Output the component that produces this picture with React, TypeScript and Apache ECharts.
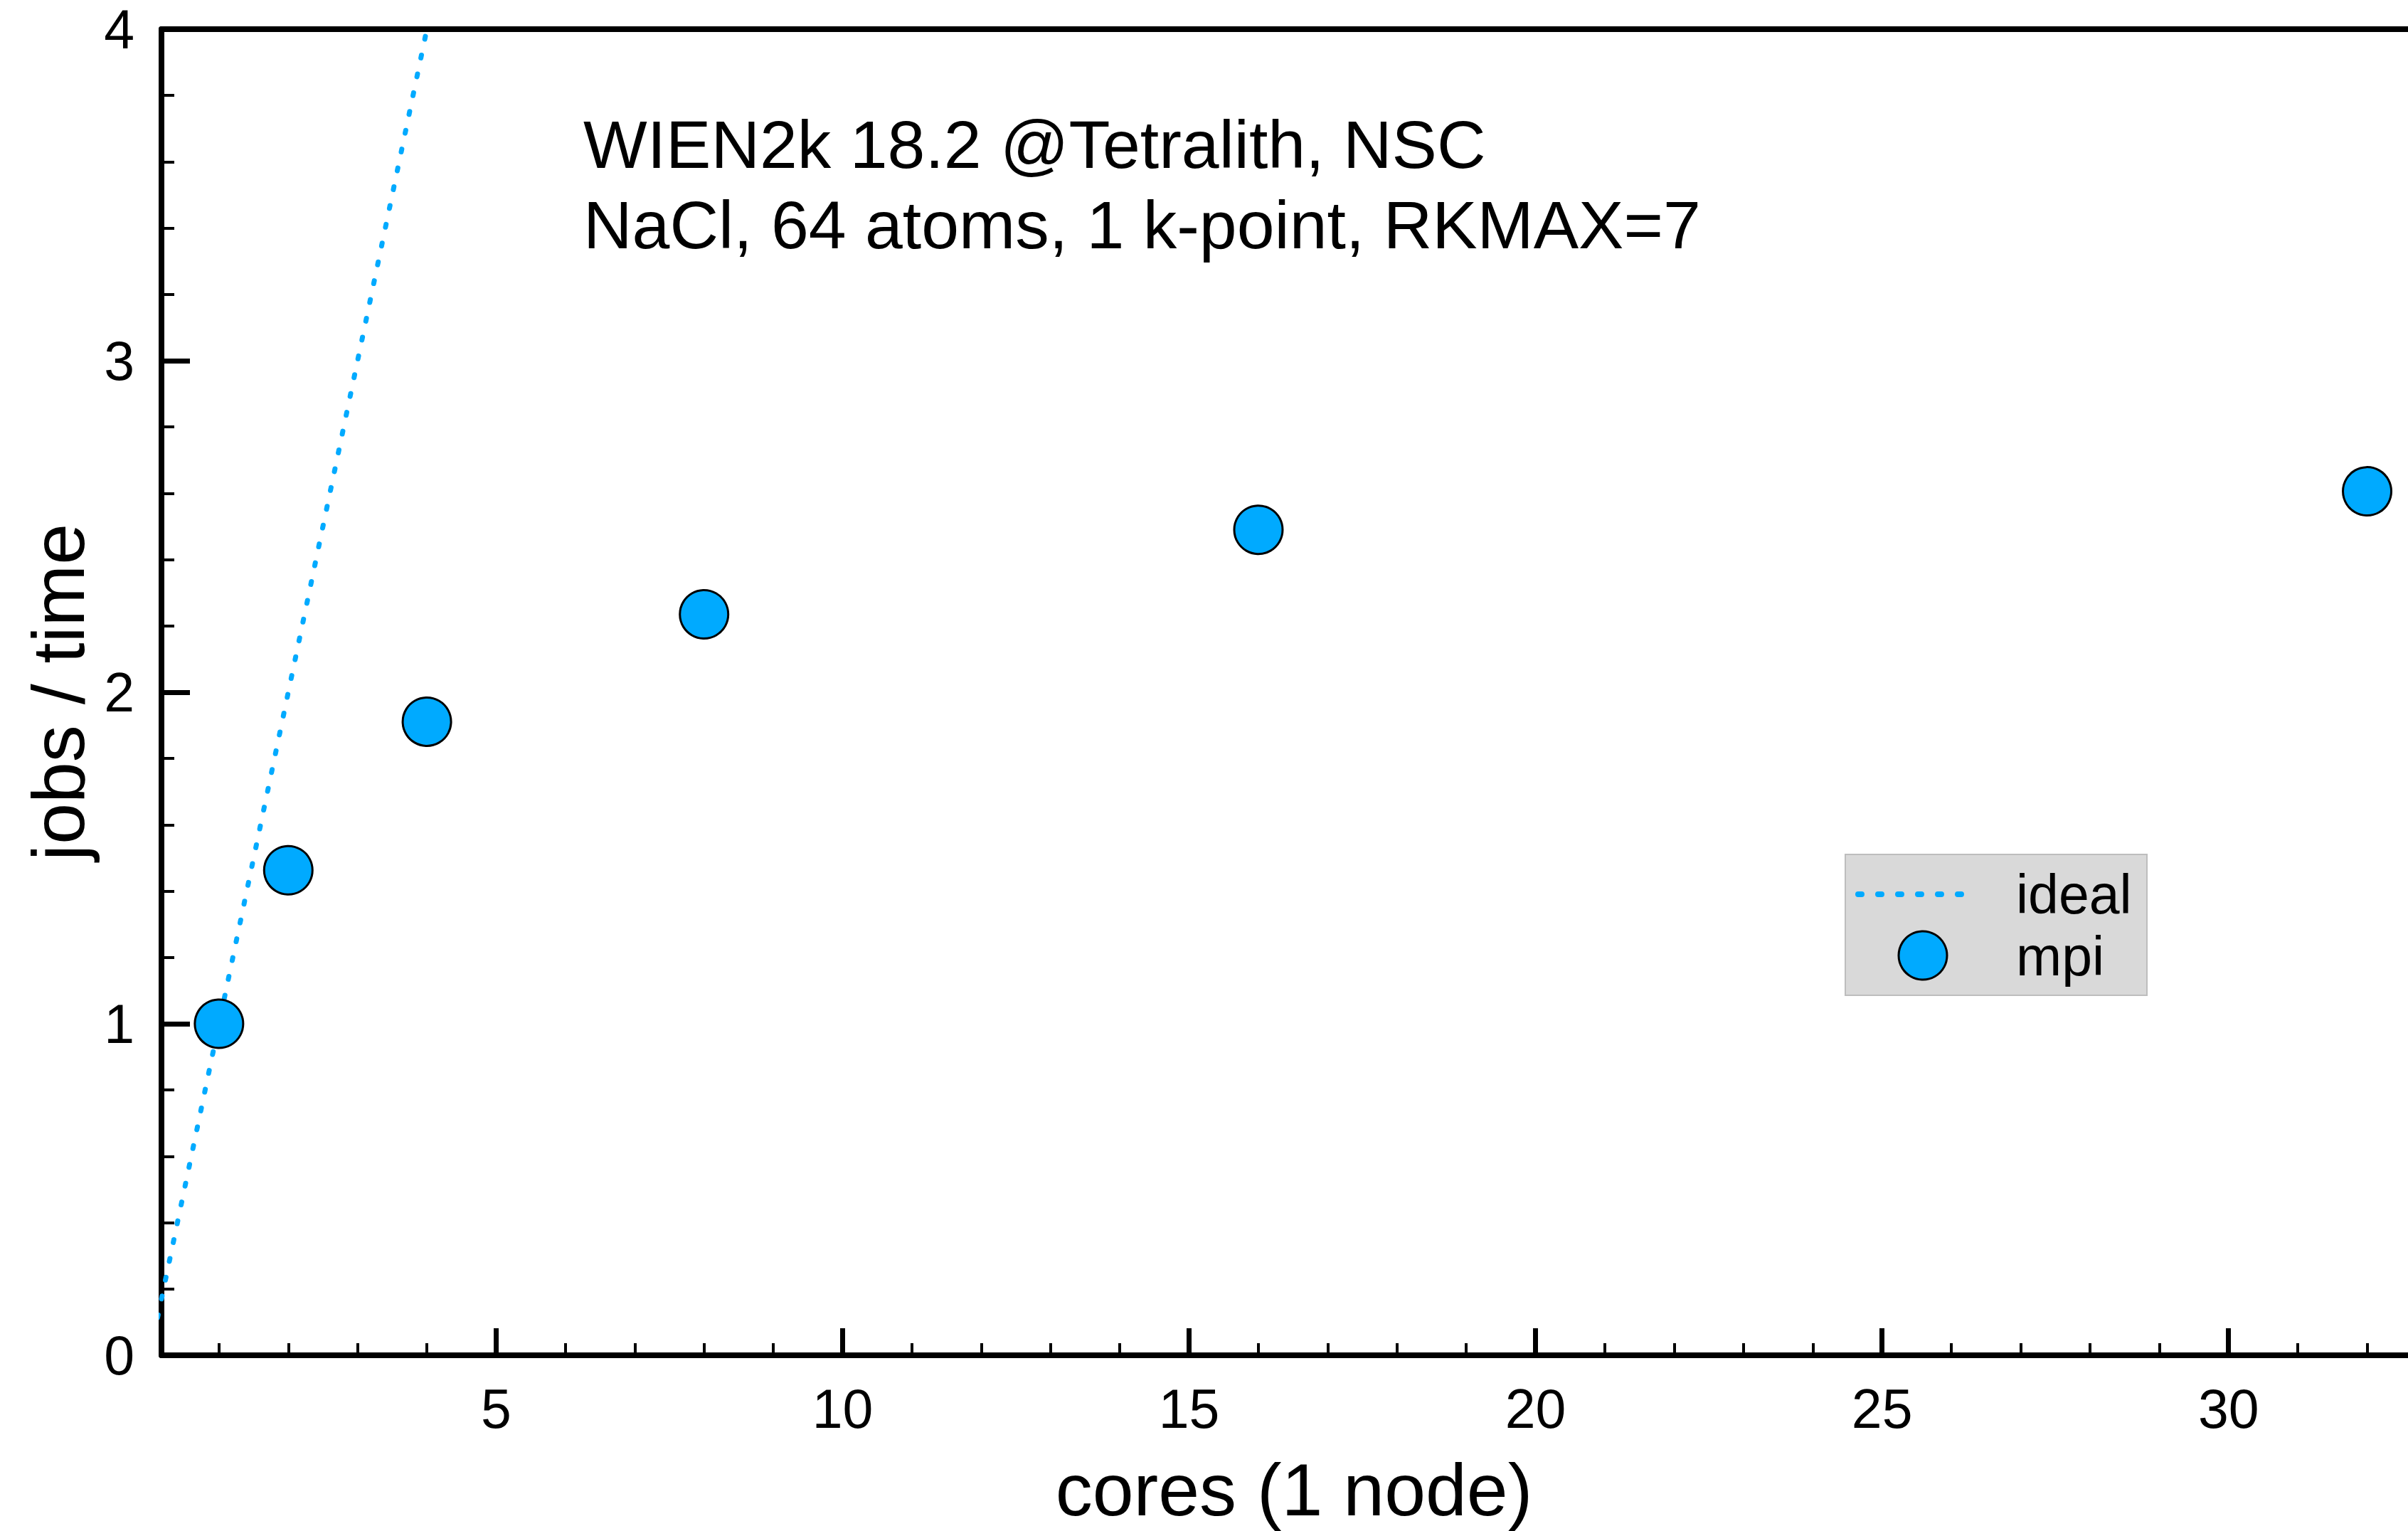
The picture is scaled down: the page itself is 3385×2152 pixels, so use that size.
import React, { useEffect, useRef } from "react";
import * as echarts from "echarts";

const cores = [1, 2, 4, 8, 16, 32];
const mpiValues = [1.0, 1.463, 1.911, 2.235, 2.49, 2.606];
const idealCores = [0, 1, 2, 4, 8];
const idealValues = [0, 1, 2, 4, 8];
const xMajorTicks = [5, 10, 15, 20, 25, 30];
const xMinorTicks = [1, 2, 3, 4, 6, 7, 8, 9, 11, 12, 13, 14, 16, 17, 18, 19, 21, 22, 23, 24, 26, 27, 28, 29, 31, 32];
const annotationLines = ["WIEN2k 18.2 @Tetralith, NSC", "NaCl, 64 atoms, 1 k-point, RKMAX=7"];
const legendNames = ["ideal", "mpi"];
const xTitle = "cores (1 node)";
const yTitle = "jobs / time";

const X_MIN = 0.17;
const X_MAX = 32.59;
const FONT = "'Liberation Sans', Arial, Helvetica, sans-serif";
const BLUE = "#00aaff";

export default function App() {
  const ref = useRef<HTMLDivElement>(null);
  useEffect(() => {
    if (!ref.current) return;
    const chart = echarts.init(ref.current, undefined, { renderer: "svg" });
    const axisBase = {
      type: "value",
      min: X_MIN,
      max: X_MAX,
      splitLine: { show: false },
    };
    chart.setOption({
      animation: false,
      backgroundColor: "#ffffff",
      grid: { left: 227, top: 41, right: 0, bottom: 247, containLabel: false },
      xAxis: [
        {
          ...axisBase,
          position: "bottom",
          axisLine: { show: true, lineStyle: { color: "#000", width: 8 } },
          axisTick: {
            show: true,
            inside: true,
            length: 38,
            customValues: xMajorTicks,
            lineStyle: { color: "#000", width: 7 },
          },
          axisLabel: {
            show: true,
            customValues: xMajorTicks,
            margin: 36,
            color: "#000",
            fontSize: 77,
            fontFamily: FONT,
          },
          name: xTitle,
          nameLocation: "middle",
          nameGap: 137,
          nameTextStyle: { color: "#000", fontSize: 104, fontFamily: FONT, padding: [0, 0, 0, 26] },
        },
        {
          ...axisBase,
          position: "bottom",
          axisLine: { show: false },
          axisTick: {
            show: true,
            inside: true,
            length: 17,
            customValues: xMinorTicks,
            lineStyle: { color: "#000", width: 4 },
          },
          axisLabel: { show: false },
        },
        {
          ...axisBase,
          position: "top",
          axisLine: { show: true, lineStyle: { color: "#000", width: 8 } },
          axisTick: { show: false },
          axisLabel: { show: false },
        },
      ],
      yAxis: {
        type: "value",
        min: 0,
        max: 4,
        interval: 1,
        splitLine: { show: false },
        axisLine: { show: true, lineStyle: { color: "#000", width: 8 } },
        axisTick: { show: true, inside: true, length: 40, lineStyle: { color: "#000", width: 7 } },
        minorTick: { show: true, splitNumber: 5, length: 18, lineStyle: { color: "#000", width: 4 } },
        axisLabel: { margin: 38, color: "#000", fontSize: 77, lineHeight: 60, fontFamily: FONT },
        name: yTitle,
        nameLocation: "middle",
        nameGap: 93,
        nameRotate: 90,
        nameTextStyle: { color: "#000", fontSize: 104, fontFamily: FONT },
      },
      series: [
        {
          name: legendNames[0],
          type: "line",
          xAxisIndex: 0,
          data: idealCores.map((c, i) => [c, idealValues[i]]),
          showSymbol: false,
          symbol: "none",
          clip: true,
          lineStyle: { color: BLUE, width: 7, type: [4, 23], cap: "round" },
          z: 2,
        },
        {
          name: legendNames[1],
          type: "scatter",
          xAxisIndex: 0,
          data: cores.map((c, i) => [c, mpiValues[i]]),
          symbol: "circle",
          symbolSize: 68,
          itemStyle: { color: BLUE, borderColor: "#000", borderWidth: 3, opacity: 1 },
          z: 3,
        },
      ],
      graphic: [
        {
          type: "text",
          left: 820,
          top: 146,
          z: 10,
          style: {
            text: annotationLines.join("\n"),
            font: `95px ${FONT}`,
            fill: "#000",
            lineHeight: 113,
          },
        },
        {
          type: "group",
          left: 2593,
          top: 1200,
          z: 10,
          children: [
            {
              type: "rect",
              shape: { x: 0, y: 0, width: 424, height: 198 },
              style: { fill: "#d9d9d9", stroke: "#bdbdbd", lineWidth: 2 },
            },
            {
              type: "line",
              shape: { x1: 18, y1: 56, x2: 186, y2: 56 },
              style: { stroke: BLUE, lineWidth: 8, lineDash: [5, 23], lineCap: "round" },
            },
            {
              type: "circle",
              shape: { cx: 109, cy: 142, r: 34 },
              style: { fill: BLUE, stroke: "#000", lineWidth: 3 },
            },
            {
              type: "text",
              x: 240,
              y: 56,
              style: { text: legendNames[0], font: `77px ${FONT}`, fill: "#000", verticalAlign: "middle" },
            },
            {
              type: "text",
              x: 240,
              y: 143,
              style: { text: legendNames[1], font: `77px ${FONT}`, fill: "#000", verticalAlign: "middle" },
            },
          ],
        },
      ],
    });
    return () => chart.dispose();
  }, []);
  return (
    <div
      ref={ref}
      style={{ position: "fixed", left: 0, top: 0, width: "3385px", height: "2152px", background: "#fff" }}
    />
  );
}
